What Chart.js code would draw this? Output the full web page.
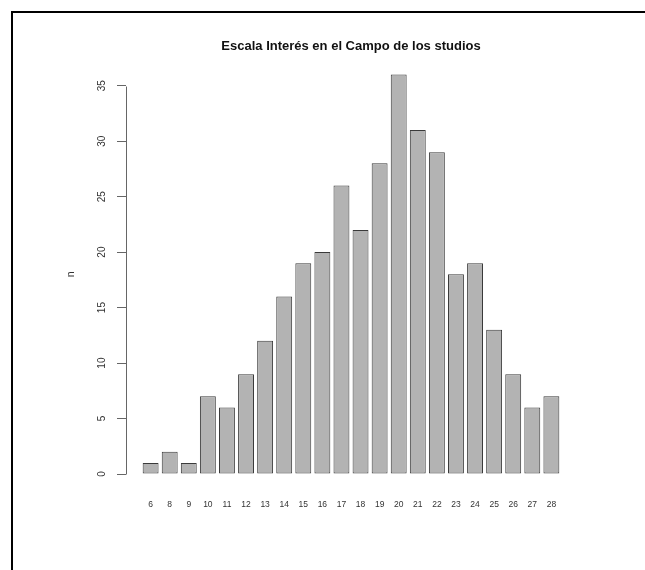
<!DOCTYPE html>
<html>
<head>
<meta charset="utf-8">
<script src="https://cdn.jsdelivr.net/npm/chart.js@4/dist/chart.umd.min.js"></script>
<style>
  html, body { margin: 0; padding: 0; background: #fff; }
  #chart { display: block; }
</style>
</head>
<body>
<canvas id="chart" width="645" height="570"></canvas>
<script>
// Score values (categories) and how many people got each one
const scoreLabels = ["6", "8", "9", "10", "11", "12", "13", "14", "15", "16", "17",
                     "18", "19", "20", "21", "22", "23", "24", "25", "26", "27", "28"];
const counts = [1, 2, 1, 7, 6, 9, 12, 16, 19, 20, 26, 22, 28, 36, 31, 29, 18, 19, 13, 9, 6, 7];
const yTickValues = [0, 5, 10, 15, 20, 25, 30, 35];

const chartTitle = "Escala Interés en el Campo de los studios";
const yAxisTitle = "n";

// R barplot layout: bar width 1, space 0.2, axis ranges padded by 4%
const barWidth = 1;
const barSpace = 0.2;
const barCenters = counts.map((_, i) => barSpace + barWidth / 2 + i * (barWidth + barSpace));
const xLeft = barSpace, xRight = barSpace + counts.length * (barWidth + barSpace) - barSpace;
const xPad = (xRight - xLeft) * 0.04;
const yMaxData = Math.max(...counts);
const yPad = yMaxData * 0.04;

const fontFamily = "'Liberation Sans', Arial, Helvetica, sans-serif";

// Frame around the picture and the R-style y axis line (only from 0 to 35)
const extrasPlugin = {
  id: "extras",
  afterDraw(chart) {
    const ctx = chart.ctx;
    const y = chart.scales.y;
    const left = chart.chartArea.left;

    ctx.save();
    ctx.strokeStyle = "#666";
    ctx.lineWidth = 1;
    ctx.beginPath();
    ctx.moveTo(left + 0.5, Math.round(y.getPixelForValue(yTickValues[0])) + 0.5);
    ctx.lineTo(left + 0.5, Math.round(y.getPixelForValue(yTickValues[yTickValues.length - 1])) + 0.5);
    ctx.stroke();

    ctx.fillStyle = "#000";
    ctx.fillRect(11, 11, 2, chart.height - 11);
    ctx.fillRect(11, 11, chart.width - 11, 2);
    ctx.restore();
  }
};

new Chart(document.getElementById("chart"), {
  type: "bar",
  data: {
    datasets: [
      {
        label: "n",
        data: counts.map((c, i) => ({ x: barCenters[i], y: c })),
        backgroundColor: "#b3b3b3",
        borderColor: "#3a3a3a",
        borderWidth: 1,
        borderSkipped: false,
        barPercentage: barWidth / (barWidth + barSpace),
        categoryPercentage: 1
      }
    ]
  },
  options: {
    responsive: false,
    animation: false,
    layout: {
      padding: { left: 0, right: 69, top: 0, bottom: 0 }
    },
    plugins: {
      legend: { display: false },
      tooltip: { enabled: false },
      title: {
        display: true,
        fullSize: false,
        text: chartTitle,
        color: "#111",
        font: { family: fontFamily, size: 13, weight: "bold", lineHeight: 1.2 },
        padding: { top: 39, bottom: 4 }
      }
    },
    scales: {
      x: {
        type: "linear",
        offset: false,
        min: xLeft - xPad,
        max: xRight + xPad,
        afterBuildTicks(scale) {
          scale.ticks = barCenters.map(v => ({ value: v }));
        },
        afterFit(scale) {
          scale.height = 80;
        },
        ticks: {
          autoSkip: false,
          maxRotation: 0,
          minRotation: 0,
          padding: 2,
          color: "#333",
          font: { family: fontFamily, size: 8.5 },
          callback: (value, index) => scoreLabels[index]
        },
        grid: { display: false },
        border: { display: false }
      },
      y: {
        min: -yPad,
        max: yMaxData + yPad,
        afterBuildTicks(scale) {
          scale.ticks = yTickValues.map(v => ({ value: v }));
        },
        afterFit(scale) {
          scale.width = 126;
        },
        ticks: {
          minRotation: 90,
          maxRotation: 90,
          crossAlign: "center",
          padding: 9.5,
          color: "#333",
          font: { family: fontFamily, size: 10 },
          callback: value => String(value)
        },
        grid: {
          drawOnChartArea: false,
          drawTicks: true,
          tickLength: 9,
          color: "#666",
          lineWidth: 1
        },
        border: { display: false },
        title: {
          display: true,
          text: yAxisTitle,
          color: "#333",
          font: { family: fontFamily, size: 10.5 },
          padding: { top: 65, bottom: 0 }
        }
      }
    }
  },
  plugins: [extrasPlugin]
});
</script>
</body>
</html>
